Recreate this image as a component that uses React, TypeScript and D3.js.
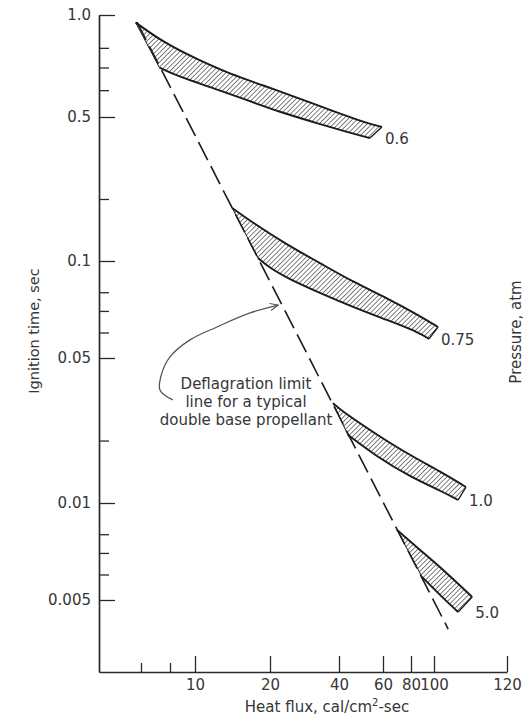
import React, { useEffect, useRef } from 'react'
import * as d3 from 'd3'

// heat flux axis, cal/cm2-sec. The printed axis is not a clean log scale,
// so the scale is piecewise-log between the printed ticks
const xBreaks = [4, 6, 8, 10, 20, 40, 60, 80, 100, 120]
const xTickValues = [10, 20, 40, 60, 80, 100, 120]
const xMinorTicks = [6, 8]

// ignition time axis, sec
const yBreaks = [1.0, 0.5, 0.1, 0.05, 0.01, 0.005, 0.0022]
const yTickValues = [1.0, 0.5, 0.1, 0.05, 0.01, 0.005]
const yTickLabels = ['1.0', '0.5', '0.1', '0.05', '0.01', '0.005']
const yMinorTicks = [0.8, 0.7, 0.6, 0.2, 0.08, 0.07, 0.06, 0.02, 0.008, 0.007, 0.006]

const pressures = ['0.6', '0.75', '1.0', '5.0']

// [heat flux, ignition time] along the upper and lower edge of each band
const upper06 = [[5.7, 0.95], [7.5, 0.83], [10.2, 0.74], [13.8, 0.67], [18.8, 0.62], [26.2, 0.57], [36.5, 0.525], [50, 0.473], [59.4, 0.447]]
const lower06 = [[7.2, 0.7], [8.7, 0.656], [11.8, 0.61], [16.2, 0.56], [22.1, 0.517], [30.8, 0.473], [43.1, 0.423], [53.2, 0.395]]

const upper075 = [[14.1, 0.181], [17.1, 0.153], [23.7, 0.12], [33, 0.0986], [45.5, 0.0861], [62.5, 0.0768], [87.3, 0.0675], [101, 0.0624]]
const lower075 = [[17.9, 0.1034], [20, 0.0951], [23.7, 0.0886], [33, 0.0796], [45.5, 0.072], [62.5, 0.0656], [87.3, 0.0598], [95.3, 0.0573]]

const upper10 = [[37.7, 0.0303], [41.5, 0.02745], [56.8, 0.0213], [79.1, 0.017], [102.3, 0.01395], [108.3, 0.01194]]
const lower10 = [[43.4, 0.0213], [56.8, 0.0167], [79.1, 0.0134], [102.3, 0.0113], [106.2, 0.01034]]

const upper50 = [[69.3, 0.00825], [87.3, 0.00715], [103.3, 0.00606], [110, 0.00511]]
const lower50 = [[89, 0.0059], [101.5, 0.00518], [106.2, 0.00436]]

// deflagration limit line (dashed)
const limitLine = [[5.77, 0.953], [103.6, 0.00359]]

// callout arrow pointing at the limit line
const calloutPath = [[8.2, 0.0314], [7.24, 0.0351], [7.38, 0.0423], [8, 0.0504], [9.56, 0.0569], [12.25, 0.0624], [16.63, 0.069], [21.7, 0.073]]
const calloutText = ['Deflagration limit', 'line for a typical', 'double base propellant']

const FONT = '"DejaVu Sans", sans-serif'
const TEXT = '#363636'
const INK = '#1a1a1a'

const App = () => {
  const ref = useRef<SVGSVGElement>(null)

  useEffect(() => {
    const svg = d3.select(ref.current)
    svg.selectAll('*').remove()

    const x = d3.scaleLog().domain(xBreaks).range([99, 141, 170, 195, 270, 339, 383, 411, 434, 507])
    const y = d3.scaleLog().domain(yBreaks).range([15, 117, 261, 358, 503, 600, 672])
    const x0 = x(xBreaks[0])
    const y0 = y(yBreaks[yBreaks.length - 1])

    const defs = svg.append('defs')
    defs.append('pattern')
      .attr('id', 'hatch')
      .attr('patternUnits', 'userSpaceOnUse')
      .attr('width', 3.4)
      .attr('height', 3.4)
      .attr('patternTransform', 'rotate(45)')
      .append('line')
      .attr('x1', 0).attr('y1', 0).attr('x2', 0).attr('y2', 3.4)
      .attr('stroke', '#333')
      .attr('stroke-width', 1.25)

    defs.append('marker')
      .attr('id', 'arrow')
      .attr('viewBox', '0 -5 10 10')
      .attr('refX', 9)
      .attr('refY', 0)
      .attr('markerWidth', 9)
      .attr('markerHeight', 9)
      .attr('markerUnits', 'userSpaceOnUse')
      .attr('orient', 'auto')
      .append('path')
      .attr('d', 'M0,-4L9,0L0,4')
      .attr('fill', 'none')
      .attr('stroke', '#555')
      .attr('stroke-width', 1.3)

    // y axis, ticks pointing inward
    const yAxis = svg.append('g')
      .attr('transform', `translate(${x0},0)`)
      .call(d3.axisLeft(y).tickValues(yTickValues).tickSizeInner(-16).tickSizeOuter(0).tickPadding(8)
        .tickFormat((d, i) => yTickLabels[i]))
    const yMinor = svg.append('g')
      .attr('transform', `translate(${x0},0)`)
      .call(d3.axisLeft(y).tickValues(yMinorTicks).tickSizeInner(-10).tickSizeOuter(0).tickFormat(() => ''))
    yMinor.select('.domain').remove()

    // x axis, ticks pointing up
    const xAxis = svg.append('g')
      .attr('transform', `translate(0,${y0})`)
      .call(d3.axisBottom(x).tickValues(xTickValues).tickSizeInner(-16).tickSizeOuter(0).tickPadding(7)
        .tickFormat(d3.format('d')))
    const xMinor = svg.append('g')
      .attr('transform', `translate(0,${y0})`)
      .call(d3.axisBottom(x).tickValues(xMinorTicks).tickSizeInner(-9).tickSizeOuter(0).tickFormat(() => ''))
    xMinor.select('.domain').remove()

    svg.selectAll('.domain').attr('stroke', '#2a2a2a').attr('stroke-width', 1.7)
    svg.selectAll('.tick line').attr('stroke', '#2a2a2a').attr('stroke-width', 1.3)
    svg.selectAll('.tick text')
      .attr('font-family', FONT)
      .attr('font-size', 15)
      .attr('fill', TEXT)
    yAxis.attr('font-size', null)
    xAxis.attr('font-size', null)

    const px = (d: number[]) => [x(d[0]), y(d[1])] as [number, number]
    const curve = d3.line().curve(d3.curveBasis)
    const callCurve = d3.line().curve(d3.curveCatmullRom.alpha(0.5))

    // dashed deflagration limit line
    svg.append('path')
      .attr('d', d3.line()(limitLine.map(px)))
      .attr('fill', 'none')
      .attr('stroke', INK)
      .attr('stroke-width', 1.6)
      .attr('stroke-dasharray', '20,7')

    const bands = [
      { label: pressures[0], upper: upper06, lower: lower06 },
      { label: pressures[1], upper: upper075, lower: lower075 },
      { label: pressures[2], upper: upper10, lower: lower10 },
      { label: pressures[3], upper: upper50, lower: lower50 },
    ]

    bands.forEach(b => {
      const up = b.upper.map(px)
      const lo = b.lower.map(px)
      const upD = curve(up) as string
      const loRevD = (curve(lo.slice().reverse()) as string).replace(/^M/, 'L')
      const g = svg.append('g')
      g.append('path')
        .attr('d', upD + loRevD + 'Z')
        .attr('fill', 'url(#hatch)')
        .attr('stroke', 'none')
      // left edge along limit line, right end cap
      g.append('path')
        .attr('d', d3.line()([up[0], lo[0]]))
        .attr('stroke', INK).attr('stroke-width', 1).attr('fill', 'none')
      g.append('path')
        .attr('d', d3.line()([up[up.length - 1], lo[lo.length - 1]]))
        .attr('stroke', INK).attr('stroke-width', 1.4).attr('fill', 'none')
      g.append('path')
        .attr('d', upD)
        .attr('stroke', INK).attr('stroke-width', 1.9).attr('fill', 'none')
      g.append('path')
        .attr('d', curve(lo))
        .attr('stroke', INK).attr('stroke-width', 1.9).attr('fill', 'none')

      const endX = Math.max(up[up.length - 1][0], lo[lo.length - 1][0])
      g.append('text')
        .attr('x', endX + 3)
        .attr('y', lo[lo.length - 1][1] + 6)
        .attr('font-family', FONT)
        .attr('font-size', 15)
        .attr('fill', TEXT)
        .text(b.label)
    })

    // callout
    svg.append('path')
      .attr('d', callCurve(calloutPath.map(px)))
      .attr('fill', 'none')
      .attr('stroke', '#555')
      .attr('stroke-width', 1.3)
      .attr('marker-end', 'url(#arrow)')

    svg.append('text')
      .attr('font-family', FONT)
      .attr('font-size', 15)
      .attr('fill', TEXT)
      .attr('text-anchor', 'middle')
      .selectAll('tspan')
      .data(calloutText)
      .enter()
      .append('tspan')
      .attr('x', 246)
      .attr('y', (d, i) => 389 + i * 18)
      .text(d => d)

    // axis titles
    svg.append('text')
      .attr('transform', 'translate(39,331) rotate(-90)')
      .attr('text-anchor', 'middle')
      .attr('font-family', FONT)
      .attr('font-size', 14.5)
      .attr('fill', TEXT)
      .text('Ignition time, sec')

    svg.append('text')
      .attr('transform', 'translate(521,332) rotate(-90)')
      .attr('text-anchor', 'middle')
      .attr('font-family', FONT)
      .attr('font-size', 15)
      .attr('fill', TEXT)
      .text('Pressure, atm')

    const xt = svg.append('text')
      .attr('x', 327)
      .attr('y', 712)
      .attr('text-anchor', 'middle')
      .attr('font-family', FONT)
      .attr('font-size', 15)
      .attr('fill', TEXT)
    xt.append('tspan').text('Heat flux, cal/cm')
    xt.append('tspan').attr('dy', -6).attr('font-size', 10).text('2')
    xt.append('tspan').attr('dy', 6).text('-sec')
  }, [])

  return (
    <svg
      ref={ref}
      width={529}
      height={715}
      style={{ position: 'absolute', left: 0, top: 0, display: 'block', background: '#fff' }}
    />
  )
}

export default App
